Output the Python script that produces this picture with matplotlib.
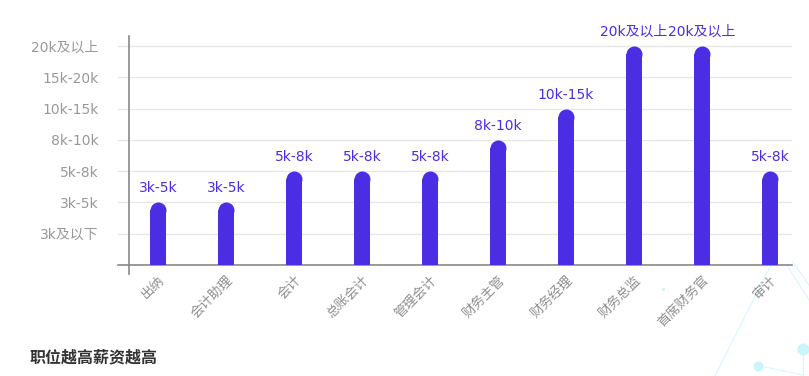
import matplotlib
matplotlib.use("Agg")
import matplotlib.pyplot as plt
from matplotlib.lines import Line2D

plt.rcParams['font.family'] = ['DejaVu Sans', 'Noto Sans CJK SC']

# 职位 / 薪资等级
positions = ['出纳', '会计助理', '会计', '总账会计', '管理会计', '财务主管',
             '财务经理', '财务总监', '首席财务官', '审计']
levels = ['3k及以下', '3k-5k', '5k-8k', '8k-10k', '10k-15k', '15k-20k', '20k及以上']
salary_level = [2, 2, 3, 3, 3, 4, 5, 7, 7, 3]

bar_color = '#4b2de3'
W, H = 809, 376
fig = plt.figure(figsize=(W / 100, H / 100), dpi=100)
ax = fig.add_axes([118 / W, 1 - 265 / H, (792 - 118) / W, (265 - 36) / H])

px_x = 68.0   # pixels per category
px_y = 31.3   # pixels per level
x0 = (118 - 158) / px_x
x1 = (792 - 158) / px_x
ax.set_xlim(x0, x1)
ax.set_ylim(0, (265 - 36) / px_y)

xs = list(range(len(positions)))
bw = 16 / px_x
r = 8 / px_y
ax.bar(xs, [v - r for v in salary_level], width=bw, color=bar_color, zorder=3)
ax.scatter(xs, [v - r for v in salary_level], s=(16 * 0.72) ** 2, color=bar_color,
           linewidths=0, zorder=3)

for x, v in zip(xs, salary_level):
    ax.annotate(levels[v - 1], (x, v), xytext=(0, 5), textcoords='offset points',
                ha='center', va='bottom', fontsize=10, color=bar_color)

ax.set_yticks(range(1, 8))
ax.set_yticklabels(levels)
ax.yaxis.grid(True, color='#e6e6e6', linewidth=0.9, zorder=0)
ax.tick_params(axis='y', length=0, pad=14, labelsize=10, labelcolor='#999999')

ax.set_xticks(xs)
ax.set_xticklabels(positions, rotation=45, ha='right', va='top', rotation_mode='anchor')
ax.tick_params(axis='x', length=0, pad=6, labelsize=9.5, labelcolor='#8f8f8f')

for s in ['top', 'right', 'left']:
    ax.spines[s].set_visible(False)
ax.spines['bottom'].set_color('#888888')
ax.spines['bottom'].set_linewidth(1.2)

# y axis line, drawn a bit past the x axis
yx = (129 - 158) / px_x
ax.plot([yx, yx], [-9 / px_y, (265 - 36) / px_y], color='#888888', lw=1.2,
        clip_on=False, zorder=4)

# background decoration (faint network)
deco = '#d4f8fc'
for (xa, ya), (xb, yb) in [((778, 251), (715, 376)), ((778, 251), (809, 300)),
                           ((760, 366), (803, 375)), ((803, 348), (803, 376)),
                           ((785, 251), (809, 285))]:
    fig.add_artist(Line2D([xa / W, xb / W], [1 - ya / H, 1 - yb / H], color=deco,
                          lw=0.8, zorder=0))
for (cx, cy, rr) in [(803, 349, 6), (758, 366, 5), (713, 60, 2.5), (721, 172, 3.5),
                     (596, 191, 1.5), (663, 289, 1.5)]:
    fig.add_artist(Line2D([cx / W], [1 - cy / H], marker='o', markersize=rr * 2 * 0.72,
                          color='#c9f5fb', markeredgewidth=0, zorder=0))

fig.text(30 / W, 1 - 357 / H, '职位越高薪资越高', fontsize=11.5, fontweight='bold',
         color='#333333', va='center', ha='left', family='Noto Sans CJK SC')

fig.savefig('out.png', dpi=100)
